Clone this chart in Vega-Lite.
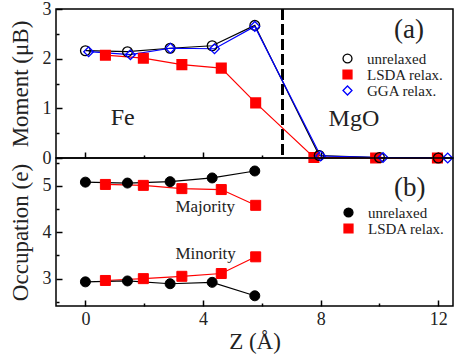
{
  "$schema": "https://vega.github.io/schema/vega-lite/v6.json",
  "padding": {"left": 8, "top": -1, "right": 0, "bottom": 0},
  "bounds": "flush",
  "spacing": 0,
  "config": {
    "view": {"stroke": "black", "strokeWidth": 1.5},
    "font": "Liberation Serif",
    "style": {
      "guide-label": {"font": "Liberation Serif"},
      "guide-title": {"font": "Liberation Serif"}
    },
    "axis": {
      "domain": false,
      "grid": false,
      "labelFont": "Liberation Serif",
      "titleFont": "Liberation Serif",
      "labelColor": "#222",
      "titleColor": "#222",
      "tickColor": "black",
      "tickWidth": 1.5,
      "titleFontWeight": "normal",
      "labelFontSize": 18,
      "titleFontSize": 23
    },
    "legend": {
      "labelFont": "Liberation Serif",
      "labelFontSize": 15,
      "labelColor": "#222",
      "padding": 0,
      "rowPadding": -0.5,
      "symbolSize": 80,
      "symbolStrokeWidth": 1.3,
      "labelOffset": 12
    }
  },
  "resolve": {
    "scale": {"stroke": "independent", "fill": "independent", "shape": "independent"},
    "legend": {"stroke": "independent", "fill": "independent", "shape": "independent"}
  },
  "vconcat": [
    {
      "width": 397,
      "height": 149,
      "data": {
        "values": [
          {"z": 0.68, "m": 2.07, "series": "LSDA relax."},
          {"z": 1.97, "m": 2.01, "series": "LSDA relax."},
          {"z": 3.28, "m": 1.88, "series": "LSDA relax."},
          {"z": 4.62, "m": 1.81, "series": "LSDA relax."},
          {"z": 5.79, "m": 1.11, "series": "LSDA relax."},
          {"z": 7.77, "m": 0.01, "series": "LSDA relax."},
          {"z": 9.87, "m": 0.0, "series": "LSDA relax."},
          {"z": 11.97, "m": 0.0, "series": "LSDA relax."},
          {"z": 0.0, "m": 2.16, "series": "unrelaxed"},
          {"z": 1.43, "m": 2.14, "series": "unrelaxed"},
          {"z": 2.88, "m": 2.21, "series": "unrelaxed"},
          {"z": 4.31, "m": 2.26, "series": "unrelaxed"},
          {"z": 5.76, "m": 2.67, "series": "unrelaxed"},
          {"z": 7.95, "m": 0.05, "series": "unrelaxed"},
          {"z": 10.0, "m": 0.01, "series": "unrelaxed"},
          {"z": 12.0, "m": 0.0, "series": "unrelaxed"},
          {"z": 0.11, "m": 2.14, "series": "GGA relax."},
          {"z": 1.53, "m": 2.08, "series": "GGA relax."},
          {"z": 2.89, "m": 2.21, "series": "GGA relax."},
          {"z": 4.39, "m": 2.2, "series": "GGA relax."},
          {"z": 5.76, "m": 2.65, "series": "GGA relax."},
          {"z": 8.0, "m": 0.04, "series": "GGA relax."},
          {"z": 10.12, "m": 0.01, "series": "GGA relax."},
          {"z": 12.32, "m": 0.0, "series": "GGA relax."}
        ]
      },
      "layer": [
        {
          "mark": {"type": "rule", "strokeDash": [11, 4], "strokeWidth": 1.8, "color": "black"},
          "encoding": {
            "x": {"datum": 6.7, "type": "quantitative", "axis": null}
          }
        },
        {
          "mark": {"type": "line", "strokeWidth": 1.2},
          "encoding": {
            "x": {
              "field": "z", "type": "quantitative",
              "scale": {"domain": [-1, 12.5], "nice": false, "zero": false},
              "axis": {"orient": "bottom", "values": [0, 4, 8, 12], "labels": false, "tickSize": -6, "title": null}
            },
            "y": {
              "field": "m", "type": "quantitative",
              "scale": {"domain": [0, 3], "nice": false},
              "axis": {"orient": "left", "values": [0, 1, 2, 3], "tickSize": -6, "labelPadding": 11, "labelFont": "Liberation Serif", "titleFont": "Liberation Serif", "title": "Moment (μB)", "titlePadding": 10}
            },
            "stroke": {
              "field": "series", "type": "nominal",
              "scale": {"domain": ["unrelaxed", "LSDA relax.", "GGA relax."], "range": ["black", "#ff0000", "#0000ff"]}
            },
            "detail": {"field": "series"}
          }
        },
        {
          "mark": {"type": "point", "strokeWidth": 1.3, "opacity": 1},
          "encoding": {
            "x": {"field": "z", "type": "quantitative", "axis": null},
            "y": {"field": "m", "type": "quantitative", "axis": null},
            "stroke": {
              "field": "series", "type": "nominal",
              "scale": {"domain": ["unrelaxed", "LSDA relax.", "GGA relax."], "range": ["black", "#ff0000", "#0000ff"]},
              "legend": {"title": null, "orient": "none", "legendX": 284, "legendY": 42, "labelFont": "Liberation Serif"}
            },
            "fill": {
              "field": "series", "type": "nominal",
              "scale": {"domain": ["unrelaxed", "LSDA relax.", "GGA relax."], "range": ["transparent", "#ff0000", "transparent"]}
            },
            "shape": {
              "field": "series", "type": "nominal",
              "scale": {"domain": ["unrelaxed", "LSDA relax.", "GGA relax."], "range": ["circle", "square", "diamond"]}
            },
            "size": {"value": 95}
          }
        },
        {
          "data": {"values": [
            {"z": 1.27, "m": 0.8, "label": "Fe"},
            {"z": 9.13, "m": 0.79, "label": "MgO"}
          ]},
          "mark": {"type": "text", "fontSize": 24, "font": "Liberation Serif", "color": "#222", "align": "center", "baseline": "middle"},
          "encoding": {
            "x": {"field": "z", "type": "quantitative", "axis": null},
            "y": {"field": "m", "type": "quantitative", "axis": null},
            "text": {"field": "label"}
          }
        },
        {
          "data": {"values": [
            {"z": 11.0, "m": 2.58, "label": "(a)"}
          ]},
          "mark": {"type": "text", "fontSize": 27, "font": "Liberation Serif", "color": "#222", "align": "center", "baseline": "middle"},
          "encoding": {
            "x": {
              "field": "z", "type": "quantitative",
              "axis": {"orient": "bottom", "values": [2, 6, 10], "labels": false, "tickSize": -3, "title": null}
            },
            "y": {
              "field": "m", "type": "quantitative",
              "axis": {"orient": "left", "values": [0.5, 1.5, 2.5], "labels": false, "tickSize": -3, "title": null}
            },
            "text": {"field": "label"}
          }
        }
      ],
      "resolve": {"axis": {"x": "independent", "y": "independent"}}
    },
    {
      "width": 397,
      "height": 148,
      "data": {
        "values": [
          {"z": 0.68, "occ": 5.03, "series": "LSDA relax.", "spin": "majority"},
          {"z": 1.97, "occ": 5.01, "series": "LSDA relax.", "spin": "majority"},
          {"z": 3.28, "occ": 4.94, "series": "LSDA relax.", "spin": "majority"},
          {"z": 4.62, "occ": 4.92, "series": "LSDA relax.", "spin": "majority"},
          {"z": 5.79, "occ": 4.58, "series": "LSDA relax.", "spin": "majority"},
          {"z": 0.68, "occ": 2.96, "series": "LSDA relax.", "spin": "minority"},
          {"z": 1.97, "occ": 3.0, "series": "LSDA relax.", "spin": "minority"},
          {"z": 3.28, "occ": 3.05, "series": "LSDA relax.", "spin": "minority"},
          {"z": 4.62, "occ": 3.11, "series": "LSDA relax.", "spin": "minority"},
          {"z": 5.79, "occ": 3.47, "series": "LSDA relax.", "spin": "minority"},
          {"z": 0.0, "occ": 5.08, "series": "unrelaxed", "spin": "majority"},
          {"z": 1.43, "occ": 5.06, "series": "unrelaxed", "spin": "majority"},
          {"z": 2.88, "occ": 5.09, "series": "unrelaxed", "spin": "majority"},
          {"z": 4.31, "occ": 5.17, "series": "unrelaxed", "spin": "majority"},
          {"z": 5.76, "occ": 5.32, "series": "unrelaxed", "spin": "majority"},
          {"z": 0.0, "occ": 2.93, "series": "unrelaxed", "spin": "minority"},
          {"z": 1.43, "occ": 2.95, "series": "unrelaxed", "spin": "minority"},
          {"z": 2.88, "occ": 2.89, "series": "unrelaxed", "spin": "minority"},
          {"z": 4.31, "occ": 2.92, "series": "unrelaxed", "spin": "minority"},
          {"z": 5.76, "occ": 2.63, "series": "unrelaxed", "spin": "minority"}
        ]
      },
      "layer": [
        {
          "mark": {"type": "line", "strokeWidth": 1.2},
          "encoding": {
            "x": {
              "field": "z", "type": "quantitative",
              "scale": {"domain": [-1, 12.5], "nice": false, "zero": false},
              "axis": {"orient": "bottom", "values": [0, 4, 8, 12], "tickSize": -6, "labelPadding": 10, "labelFlush": false, "labelFont": "Liberation Serif", "titleFont": "Liberation Serif", "title": "Z (Å)", "titlePadding": 2}
            },
            "y": {
              "field": "occ", "type": "quantitative",
              "scale": {"domain": [2.41, 5.6], "nice": false, "zero": false},
              "axis": {"orient": "left", "values": [3, 4, 5], "tickSize": -6, "labelPadding": 11, "labelFont": "Liberation Serif", "titleFont": "Liberation Serif", "title": "Occupation (e)", "titlePadding": 10}
            },
            "stroke": {
              "field": "series", "type": "nominal",
              "scale": {"domain": ["unrelaxed", "LSDA relax."], "range": ["black", "#ff0000"]}
            },
            "detail": [{"field": "series"}, {"field": "spin"}]
          }
        },
        {
          "mark": {"type": "point", "strokeWidth": 1, "opacity": 1},
          "encoding": {
            "x": {"field": "z", "type": "quantitative", "axis": null},
            "y": {"field": "occ", "type": "quantitative", "axis": null},
            "stroke": {
              "field": "series", "type": "nominal",
              "scale": {"domain": ["unrelaxed", "LSDA relax."], "range": ["black", "#ff0000"]},
              "legend": {"title": null, "orient": "none", "legendX": 285, "legendY": 47, "labelFont": "Liberation Serif"}
            },
            "fill": {
              "field": "series", "type": "nominal",
              "scale": {"domain": ["unrelaxed", "LSDA relax."], "range": ["black", "#ff0000"]}
            },
            "shape": {
              "field": "series", "type": "nominal",
              "scale": {"domain": ["unrelaxed", "LSDA relax."], "range": ["circle", "square"]}
            },
            "size": {"value": 100}
          }
        },
        {
          "data": {"values": [
            {"z": 3.06, "occ": 4.43, "label": "Majority"},
            {"z": 3.06, "occ": 3.43, "label": "Minority"}
          ]},
          "mark": {"type": "text", "fontSize": 17, "font": "Liberation Serif", "color": "#222", "align": "left", "baseline": "alphabetic"},
          "encoding": {
            "x": {"field": "z", "type": "quantitative", "axis": null},
            "y": {"field": "occ", "type": "quantitative", "axis": null},
            "text": {"field": "label"}
          }
        },
        {
          "data": {"values": [
            {"z": 11.03, "occ": 4.96, "label": "(b)"}
          ]},
          "mark": {"type": "text", "fontSize": 27, "font": "Liberation Serif", "color": "#222", "align": "center", "baseline": "middle"},
          "encoding": {
            "x": {
              "field": "z", "type": "quantitative",
              "axis": {"orient": "bottom", "values": [2, 6, 10], "labels": false, "tickSize": -3, "title": null}
            },
            "y": {
              "field": "occ", "type": "quantitative",
              "axis": {"orient": "left", "values": [2.5, 3.5, 4.5, 5.5], "labels": false, "tickSize": -3, "title": null}
            },
            "text": {"field": "label"}
          }
        }
      ],
      "resolve": {"axis": {"x": "independent", "y": "independent"}}
    }
  ]
}
